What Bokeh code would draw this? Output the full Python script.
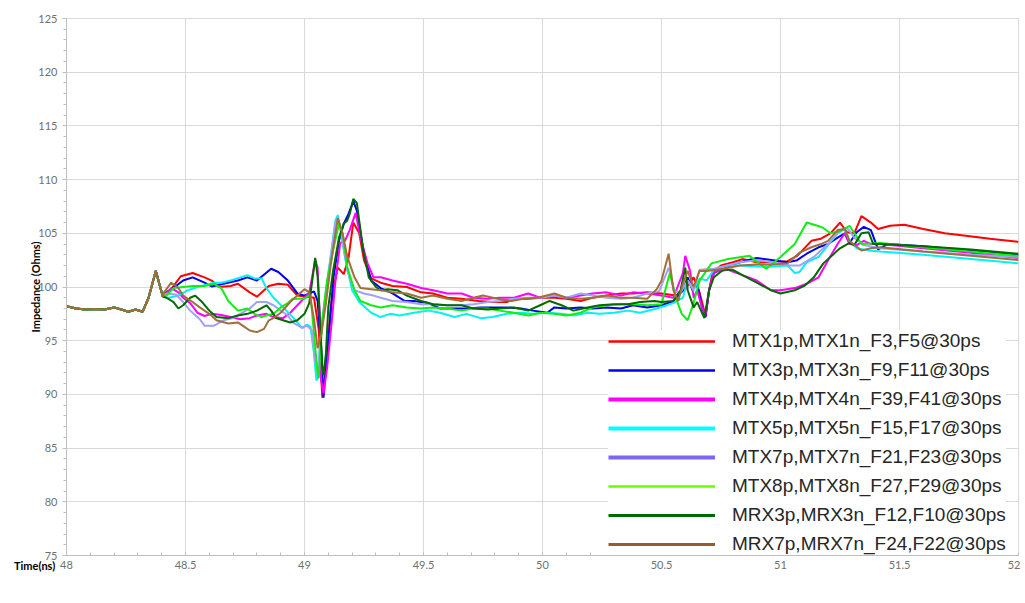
from bokeh.plotting import figure
from bokeh.models import (Legend, LegendItem, NumeralTickFormatter,
                          SingleIntervalTicker, Range1d)
from bokeh.embed import file_html
from bokeh.resources import INLINE

# ---------------- data ----------------
start_t = [48.00, 48.04, 48.08, 48.12, 48.16, 48.20, 48.23, 48.26, 48.29, 48.32, 48.345, 48.375, 48.405]
start_v = [98.2, 98.0, 97.9, 97.95, 97.9, 98.1, 97.9, 97.7, 97.9, 97.7, 99.0, 101.5, 99.1]

mtx1_t = [48.44, 48.48, 48.53, 48.58, 48.61, 48.64, 48.69, 48.72, 48.77, 48.80, 48.85, 48.89, 48.93, 48.97, 49.01, 49.04,
          49.06, 49.075, 49.09, 49.11, 49.125, 49.14, 49.165, 49.185, 49.205, 49.23, 49.25, 49.28, 49.32, 49.37, 49.43,
          49.49, 49.54, 49.60, 49.66, 49.73, 49.79, 49.85, 49.88, 49.94, 50.0, 50.05, 50.10, 50.16, 50.21, 50.27, 50.33,
          50.38, 50.44, 50.50, 50.56, 50.60, 50.635, 50.66, 50.685, 50.70, 50.715, 50.75, 50.80, 50.84, 50.90, 50.97,
          51.03, 51.07, 51.13, 51.17, 51.21, 51.25, 51.28, 51.31, 51.34, 51.38, 51.41, 51.46, 51.52, 51.60, 51.69,
          51.77, 51.88, 52.0]
mtx1_v = [99.8, 101.0, 101.3, 100.9, 100.6, 100.0, 100.1, 100.3, 99.5, 99.1, 100.1, 100.3, 100.2, 99.2, 99.1, 99.0,
          96.0, 89.7, 92.5, 98.1, 100.2, 101.8, 101.2, 102.7, 106.0, 105.0, 102.5, 100.8, 100.4, 100.1, 100.0,
          99.5, 99.4, 99.0, 98.9, 98.7, 98.6, 98.6, 98.9, 98.9, 99.0, 99.0, 98.9, 98.7, 99.0, 99.2, 99.4,
          99.4, 99.5, 99.4, 99.2, 99.8, 100.9, 99.5, 97.3, 99.7, 101.4, 102.0, 102.3, 102.6, 102.3, 102.3,
          102.4, 102.9, 104.3, 104.5, 105.0, 106.0, 105.1, 105.0, 106.6, 106.0, 105.4, 105.7, 105.8, 105.4, 105.0,
          104.8, 104.5, 104.2]

mtx3_t = [48.42, 48.46, 48.49, 48.53, 48.58, 48.61, 48.66, 48.72, 48.76, 48.80, 48.86, 48.89, 48.93, 48.97, 49.0, 49.04,
          49.055, 49.07, 49.08, 49.09, 49.11, 49.12, 49.145, 49.165, 49.185, 49.205, 49.22, 49.25, 49.28, 49.32, 49.37,
          49.42, 49.46, 49.52, 49.57, 49.63, 49.68, 49.74, 49.79, 49.85, 49.91, 49.96, 50.02, 50.05, 50.10, 50.16,
          50.21, 50.27, 50.33, 50.38, 50.44, 50.50, 50.55, 50.59, 50.61, 50.63, 50.65, 50.67, 50.685, 50.70, 50.72,
          50.76, 50.83, 50.90, 50.97, 51.03, 51.07, 51.11, 51.16, 51.20, 51.24, 51.27, 51.29, 51.32, 51.35, 51.38,
          51.41, 51.45, 51.6, 51.8, 52.0]
mtx3_v = [99.5, 100.1, 100.6, 100.9, 100.4, 100.05, 100.3, 100.6, 100.9, 100.6, 101.7, 101.4, 100.6, 99.4, 99.2, 99.6,
          98.7, 94.4, 89.7, 92.5, 97.5, 100.6, 104.3, 105.9, 106.8, 108.0, 107.1, 103.1, 100.6, 99.9, 99.4,
          98.7, 98.7, 98.5, 98.0, 98.0, 98.0, 98.1, 98.1, 98.1, 98.0, 97.8, 97.6, 98.1, 98.0, 98.1,
          98.0, 98.1, 98.0, 98.3, 98.1, 98.3, 98.7, 99.7, 100.9, 99.7, 100.3, 98.1, 97.2, 99.7, 101.3,
          101.8, 102.3, 102.7, 102.5, 102.3, 102.5, 103.1, 103.7, 104.0, 104.6, 105.0, 104.1, 105.1, 105.6, 105.3,
          103.5, 104.0, 103.8, 103.4, 103.0]

mtx4_t = [48.41, 48.44, 48.47, 48.49, 48.52, 48.55, 48.58, 48.61, 48.65, 48.69, 48.73, 48.77, 48.80, 48.84, 48.87, 48.91,
          48.94, 48.97, 49.0, 49.02, 49.045, 49.055, 49.065, 49.07, 49.08, 49.095, 49.115, 49.13, 49.15, 49.17, 49.19,
          49.215, 49.235, 49.265, 49.29, 49.32, 49.37, 49.43, 49.49, 49.54, 49.60, 49.66, 49.71, 49.77, 49.82, 49.88,
          49.94, 49.99, 50.05, 50.10, 50.16, 50.21, 50.27, 50.33, 50.38, 50.44, 50.50, 50.55, 50.59, 50.60, 50.62,
          50.635, 50.65, 50.67, 50.685, 50.70, 50.72, 50.78, 50.84, 50.90, 50.96, 51.0, 51.06, 51.11, 51.16, 51.20,
          51.24, 51.27, 51.29, 51.32, 51.35, 51.38, 51.42, 51.6, 51.8, 52.0]
mtx4_v = [99.2, 99.9, 99.5, 99.0, 98.5, 97.6, 97.3, 97.5, 97.4, 97.2, 97.0, 97.1, 97.35, 97.5, 97.2, 97.1,
          97.6, 98.3, 99.0, 99.5, 102.5, 101.8, 96.9, 91.3, 90.1, 92.5, 96.9, 100.6, 104.1, 104.3, 105.3,
          106.9, 104.6, 102.2, 100.9, 100.9, 100.6, 100.3, 99.9, 99.7, 99.4, 99.4, 99.0, 98.9, 99.0, 99.0,
          99.4, 99.0, 99.2, 99.0, 99.2, 99.4, 99.5, 99.2, 99.5, 99.4, 99.2, 99.0, 101.3, 102.9, 101.5,
          99.0, 99.7, 98.1, 97.4, 99.7, 101.4, 101.6, 101.1, 100.6, 99.7, 99.7, 99.9, 100.3, 100.9, 102.5,
          104.0, 105.0, 104.0, 103.9, 104.3, 104.0, 104.0, 103.6, 103.2, 102.7]

mtx5_t = [48.43, 48.47, 48.51, 48.55, 48.62, 48.65, 48.69, 48.73, 48.76, 48.79, 48.82, 48.84, 48.87, 48.91, 48.95, 48.99,
          49.01, 49.025, 49.04, 49.05, 49.055, 49.07, 49.09, 49.11, 49.13, 49.14, 49.15, 49.17, 49.20, 49.23, 49.26,
          49.28, 49.32, 49.36, 49.40, 49.46, 49.52, 49.57, 49.63, 49.68, 49.74, 49.79, 49.85, 49.91, 49.96, 50.02,
          50.08, 50.13, 50.19, 50.24, 50.30, 50.36, 50.41, 50.48, 50.55, 50.59, 50.61, 50.635, 50.66, 50.69, 50.72,
          50.78, 50.83, 50.90, 50.97, 51.03, 51.06, 51.08, 51.11, 51.16, 51.20, 51.24, 51.27, 51.29, 51.32, 51.37,
          51.42, 51.6, 51.8, 52.0]
mtx5_v = [99.0, 99.2, 99.7, 100.0, 100.4, 100.4, 100.6, 100.9, 101.1, 100.8, 100.8, 99.9, 99.0, 98.1, 97.2, 96.2,
          96.5, 96.3, 93.8, 91.3, 91.5, 96.0, 99.7, 102.8, 106.2, 106.7, 105.5, 102.8, 99.7, 98.6, 98.0,
          97.6, 97.2, 97.5, 97.35, 97.6, 97.8, 97.6, 97.2, 97.5, 97.1, 97.2, 97.5, 97.6, 97.5, 97.6,
          97.5, 97.35, 97.6, 97.5, 97.6, 97.8, 97.6, 98.0, 98.5, 99.0, 100.6, 99.7, 100.8, 100.6, 101.6,
          102.0, 102.0, 101.9, 101.9, 102.0, 101.3, 101.4, 102.3, 102.8, 103.9, 105.0, 105.4, 104.3, 103.6, 103.4,
          103.3, 103.0, 102.6, 102.2]

mtx7_t = [48.42, 48.46, 48.49, 48.52, 48.56, 48.58, 48.62, 48.66, 48.70, 48.73, 48.77, 48.80, 48.84, 48.87, 48.90, 48.93,
          48.95, 48.99, 49.01, 49.03, 49.045, 49.055, 49.07, 49.09, 49.11, 49.13, 49.14, 49.155, 49.18, 49.21, 49.25,
          49.29, 49.32, 49.37, 49.43, 49.49, 49.54, 49.60, 49.66, 49.71, 49.77, 49.82, 49.88, 49.94, 49.99, 50.05,
          50.10, 50.16, 50.21, 50.27, 50.33, 50.38, 50.44, 50.49, 50.53, 50.555, 50.58, 50.61, 50.635, 50.66, 50.72,
          50.83, 50.90, 50.97, 51.04, 51.08, 51.14, 51.20, 51.25, 51.28, 51.31, 51.35, 51.42, 51.6, 51.8, 52.0]
mtx7_v = [99.4, 99.3, 98.6, 97.8, 97.0, 96.4, 96.4, 96.9, 97.1, 97.5, 98.0, 98.6, 98.6, 98.3, 97.8, 97.35,
          96.7, 96.2, 96.4, 96.0, 93.0, 92.0, 95.5, 99.5, 102.8, 106.0, 106.4, 105.0, 101.5, 99.7, 99.4,
          99.2, 99.0, 98.7, 98.6, 98.4, 98.4, 98.3, 98.3, 98.4, 98.6, 98.7, 98.9, 99.0, 99.0, 99.2,
          99.0, 99.4, 99.2, 99.0, 98.9, 99.0, 99.4, 99.6, 101.8, 99.6, 99.5, 100.6, 99.8, 101.6, 101.7,
          102.3, 102.5, 102.3, 102.0, 102.0, 102.8, 104.0, 105.3, 105.5, 104.6, 103.9, 103.6, 103.3, 103.0, 102.8]

mtx8_t = [48.42, 48.45, 48.49, 48.53, 48.58, 48.62, 48.65, 48.68, 48.72, 48.76, 48.79, 48.82, 48.84, 48.87, 48.90, 48.93,
          48.95, 49.0, 49.025, 49.045, 49.055, 49.06, 49.075, 49.095, 49.12, 49.145, 49.16, 49.18, 49.21, 49.235, 49.28,
          49.32, 49.37, 49.43, 49.49, 49.54, 49.60, 49.66, 49.71, 49.77, 49.82, 49.88, 49.94, 49.99, 50.05, 50.10,
          50.16, 50.21, 50.27, 50.33, 50.38, 50.44, 50.50, 50.535, 50.56, 50.585, 50.61, 50.635, 50.66, 50.71, 50.78,
          50.87, 50.94, 51.0, 51.06, 51.11, 51.155, 51.18, 51.21, 51.25, 51.29, 51.34, 51.42, 51.6, 51.8, 52.0]
mtx8_v = [99.2, 99.9, 100.0, 100.1, 100.1, 100.3, 99.9, 98.7, 97.8, 98.0, 97.5, 97.2, 97.35, 97.5, 98.1, 98.5,
          98.9, 98.9, 99.3, 94.4, 92.0, 91.5, 96.9, 100.6, 103.4, 105.9, 105.0, 101.8, 99.7, 98.7, 98.3,
          98.1, 98.3, 98.1, 98.0, 98.1, 98.0, 97.8, 98.0, 98.0, 97.8, 97.6, 97.35, 97.6, 97.5, 97.35,
          97.6, 98.1, 98.3, 98.4, 98.4, 98.3, 98.4, 101.3, 99.0, 97.5, 96.9, 98.5, 100.6, 102.2, 102.6,
          102.9, 101.7, 102.8, 104.0, 106.0, 105.7, 105.5, 105.0, 105.2, 105.7, 104.0, 104.1, 103.7, 103.3, 102.9]

mrx3_t = [48.42, 48.45, 48.47, 48.49, 48.52, 48.54, 48.57, 48.60, 48.63, 48.68, 48.72, 48.76, 48.80, 48.84, 48.86, 48.88,
          48.91, 48.94, 48.97, 49.0, 49.02, 49.035, 49.045, 49.055, 49.065, 49.075, 49.08, 49.09, 49.10, 49.12, 49.145,
          49.165, 49.18, 49.19, 49.205, 49.22, 49.245, 49.27, 49.30, 49.32, 49.35, 49.39, 49.43, 49.49, 49.54, 49.60,
          49.66, 49.71, 49.77, 49.82, 49.88, 49.94, 49.99, 50.03, 50.08, 50.13, 50.19, 50.24, 50.30, 50.36, 50.41,
          50.47, 50.50, 50.55, 50.58, 50.60, 50.61, 50.635, 50.65, 50.68, 50.70, 50.72, 50.76, 50.80, 50.84, 50.90,
          50.96, 51.0, 51.06, 51.10, 51.14, 51.18, 51.23, 51.25, 51.29, 51.31, 51.34, 51.37, 51.39, 51.42, 51.6,
          51.8, 52.0]
mrx3_v = [99.0, 98.6, 98.0, 98.3, 99.0, 99.2, 98.6, 97.8, 97.2, 97.1, 97.35, 97.5, 97.8, 98.3, 97.8, 97.1,
          96.9, 96.7, 96.9, 97.5, 98.5, 101.0, 102.7, 101.0, 96.9, 92.5, 91.8, 93.8, 98.1, 101.5, 104.6,
          105.9, 106.2, 106.8, 108.2, 107.8, 103.7, 100.9, 100.0, 99.7, 99.8, 99.7, 99.2, 98.7, 98.4, 98.3,
          98.3, 98.0, 97.9, 98.0, 98.1, 97.8, 98.3, 98.7, 98.3, 97.8, 98.1, 98.3, 98.4, 98.4, 98.6,
          98.7, 98.6, 98.7, 99.7, 101.8, 99.7, 98.1, 98.6, 97.1, 99.7, 100.9, 101.6, 101.6, 101.1, 100.4,
          99.7, 99.4, 99.7, 100.1, 100.9, 102.2, 103.2, 103.6, 104.1, 103.9, 105.0, 105.1, 104.0, 104.0, 103.8,
          103.5, 103.1]

mrx7_t = [48.41, 48.44, 48.47, 48.49, 48.53, 48.56, 48.60, 48.63, 48.68, 48.72, 48.74, 48.77, 48.80, 48.83, 48.85, 48.87,
          48.90, 48.94, 48.97, 49.0, 49.02, 49.04, 49.055, 49.07, 49.09, 49.11, 49.13, 49.14, 49.16, 49.18, 49.21,
          49.235, 49.28, 49.32, 49.37, 49.43, 49.49, 49.54, 49.60, 49.66, 49.71, 49.75, 49.81, 49.87, 49.92, 49.98,
          50.05, 50.10, 50.16, 50.21, 50.27, 50.33, 50.38, 50.44, 50.48, 50.50, 50.53, 50.55, 50.57, 50.59, 50.61,
          50.635, 50.66, 50.69, 50.76, 50.83, 50.90, 50.97, 51.03, 51.08, 51.13, 51.17, 51.20, 51.24, 51.27, 51.29,
          51.34, 51.38, 51.42, 51.6, 51.8, 52.0]
mrx7_v = [99.5, 100.4, 99.9, 99.2, 98.6, 98.1, 97.5, 96.9, 96.6, 96.7, 96.4, 95.95, 95.8, 96.1, 96.9, 97.1,
          97.6, 98.6, 99.2, 99.8, 99.5, 97.0, 94.3, 95.5, 98.5, 102.0, 105.0, 106.4, 105.0, 102.8, 100.9,
          99.9, 99.8, 99.7, 99.5, 99.4, 99.0, 99.2, 98.9, 98.7, 99.0, 99.2, 98.9, 98.7, 98.9, 99.0,
          99.4, 99.0, 98.9, 99.0, 99.2, 99.0, 99.0, 98.9, 99.8, 100.6, 103.1, 99.7, 98.7, 100.3, 101.5,
          100.0, 101.5, 101.5, 101.7, 102.0, 102.1, 102.1, 102.2, 103.2, 103.7, 104.0, 104.3, 105.3, 105.4, 104.3,
          103.4, 103.6, 103.7, 103.3, 102.9, 102.5]

series_names = ["MTX1p,MTX1n_F3,F5@30ps", "MTX3p,MTX3n_F9,F11@30ps", "MTX4p,MTX4n_F39,F41@30ps",
                "MTX5p,MTX5n_F15,F17@30ps", "MTX7p,MTX7n_F21,F23@30ps", "MTX8p,MTX8n_F27,F29@30ps",
                "MRX3p,MRX3n_F12,F10@30ps", "MRX7p,MRX7n_F24,F22@30ps"]
series_t = [mtx1_t, mtx3_t, mtx4_t, mtx5_t, mtx7_t, mtx8_t, mrx3_t, mrx7_t]
series_v = [mtx1_v, mtx3_v, mtx4_v, mtx5_v, mtx7_v, mtx8_v, mrx3_v, mrx7_v]

line_colors = ["#ff0000", "#0000ee", "#ff00ff", "#00f2f2", "#a0a0ff", "#11ee11", "#006a00", "#a0703c"]
legend_colors = ["#ff0000", "#0000ee", "#ff00ff", "#00ffff", "#7b68ee", "#66ff00", "#006a00", "#9b5a2a"]
legend_widths = [2.5, 2.5, 4, 4, 4, 2.5, 3, 3]

# ---------------- figure ----------------
p = figure(width=1020, height=595, x_range=Range1d(48, 52), y_range=Range1d(75, 125),
           output_backend="svg", toolbar_location=None,
           min_border_left=66, min_border_top=18, min_border_right=2, min_border_bottom=40,
           background_fill_color="white", border_fill_color="white")
p.outline_line_color = "#d9d9d9"

p.xaxis.ticker = SingleIntervalTicker(interval=0.5, num_minor_ticks=5)
p.yaxis.ticker = SingleIntervalTicker(interval=5, num_minor_ticks=5)
p.xaxis.formatter = NumeralTickFormatter(format="0.[0]")
p.grid.grid_line_color = "#d9d9d9"
p.grid.grid_line_width = 1

for ax in (p.xaxis[0], p.yaxis[0]):
    ax.axis_line_color = "#bfbfbf"
    ax.major_tick_line_color = "#bfbfbf"
    ax.minor_tick_line_color = "#bfbfbf"
    ax.major_label_text_font = "Lato"
    ax.major_label_text_font_size = "11px"
    ax.major_label_text_color = "#707070"
    ax.axis_label_text_font = "Lato"
    ax.axis_label_text_font_size = "11px"
    ax.axis_label_text_font_style = "bold"
    ax.axis_label_text_color = "#000000"

p.yaxis.major_tick_out = 4
p.yaxis.major_tick_in = 0
p.yaxis.minor_tick_out = 3
p.yaxis.minor_tick_in = 0
p.yaxis.major_label_standoff = 5
p.yaxis.axis_label = "Impedance (Ohms)"
p.yaxis.axis_label_standoff = -7

p.xaxis.major_tick_out = 0
p.xaxis.major_tick_in = 0
p.xaxis.minor_tick_out = 0
p.xaxis.minor_tick_in = 3
p.xaxis.major_label_standoff = 5
# "Time(ns)" sits on the tick-label row, left of the first tick;
# trailing figure spaces push the centred caption to the left of "48"
p.xaxis.axis_label = "Time(ns)" + "\u2007" * 10
p.xaxis.axis_label_standoff = -13
p.xaxis.axis_label_align = "start"

for t, v, c in zip(series_t, series_v, line_colors):
    p.line(start_t + t, start_v + v, line_color=c, line_width=2)

items = []
for name, c, w in zip(series_names, legend_colors, legend_widths):
    r = p.line(x=[40, 41], y=[0, 0], line_color=c, line_width=w)
    items.append(LegendItem(label=name, renderers=[r]))

legend = Legend(items=items, location=(542, 0), orientation="vertical",
                glyph_width=107, glyph_height=20, label_height=20, spacing=7,
                label_standoff=17, padding=0, margin=0,
                label_text_font="Liberation Sans", label_text_font_size="19px",
                label_text_color="#262626", border_line_color=None,
                background_fill_color="white", background_fill_alpha=1.0)
p.add_layout(legend)

open("out.html", "w").write(file_html(p, INLINE))
